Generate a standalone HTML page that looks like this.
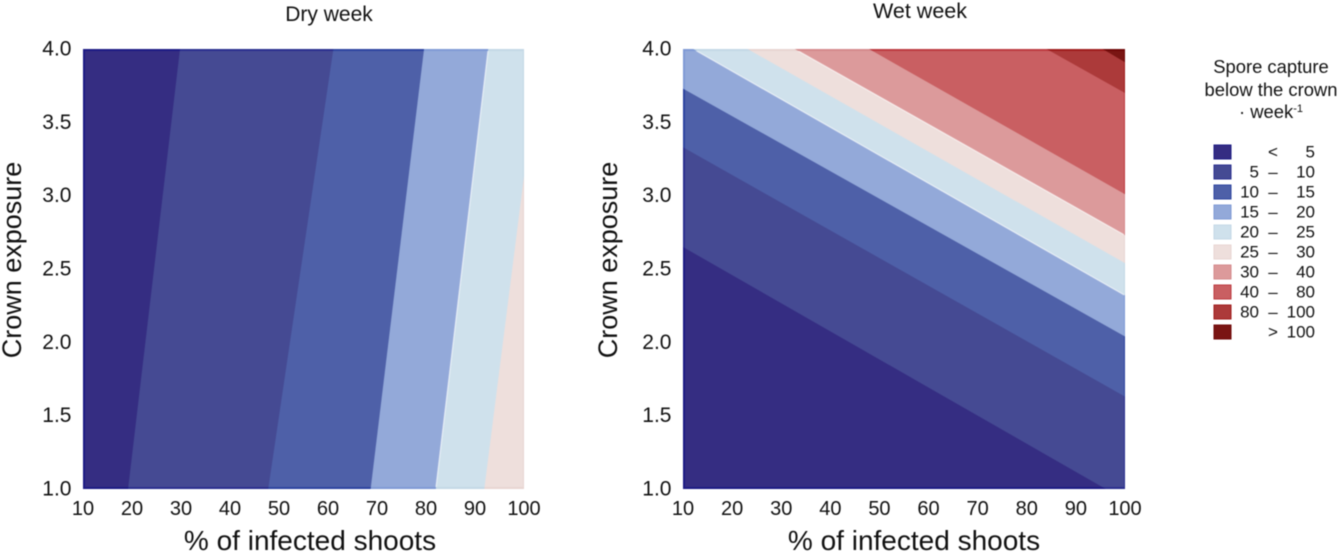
<!DOCTYPE html>
<html lang="en">
<head>
<meta charset="utf-8">
<title>Spore capture below the crown</title>
<style>
html,body{margin:0;padding:0;background:#fff;width:1340px;height:554px;overflow:hidden}
svg{display:block;filter:blur(0.45px)}
text{font-family:"Liberation Sans",sans-serif;fill:#111}
</style>
</head>
<body>
<svg id="chart" xmlns="http://www.w3.org/2000/svg" width="1340" height="554" viewBox="0 0 1340 554">
<defs>
<clipPath id="clip-dry"><rect x="83" y="49" width="441" height="440"/></clipPath>
<clipPath id="clip-wet"><rect x="683" y="49" width="442" height="440"/></clipPath>
<clipPath id="ring-dry"><path clip-rule="evenodd" d="M83 49H524V489H83ZM85 51V487H523V51Z"/></clipPath>
<clipPath id="ring-wet"><path clip-rule="evenodd" d="M683 49H1125V489H683ZM685 51V487H1124V51Z"/></clipPath>
</defs>
<text x="329" y="21" text-anchor="middle" font-size="21">Dry week</text>
<text x="920" y="18" text-anchor="middle" font-size="21.5">Wet week</text>
<text x="310" y="550" text-anchor="middle" font-size="28">% of infected shoots</text>
<text x="914" y="550" text-anchor="middle" font-size="28">% of infected shoots</text>
<text transform="translate(21 260) rotate(-90)" text-anchor="middle" font-size="27">Crown exposure</text>
<text transform="translate(617 260) rotate(-90)" text-anchor="middle" font-size="27">Crown exposure</text>
<g font-size="18.4" text-anchor="middle">
<text x="1271" y="73">Spore capture</text>
<text x="1271" y="96">below the crown</text>
<text x="1271" y="118">· week<tspan font-size="11" dy="-6">-1</tspan></text>
</g>
<g id="panels"></g>
<g id="legend"></g>
</svg>
<script>
const xTickLabels = [10, 20, 30, 40, 50, 60, 70, 80, 90, 100];
const yTickLabels = ["1.0", "1.5", "2.0", "2.5", "3.0", "3.5", "4.0"];
const legendLow = ["", "5", "10", "15", "20", "25", "30", "40", "80", ""];
const legendSep = ["<", "–", "–", "–", "–", "–", "–", "–", "–", ">"];
const legendHigh = ["5", "10", "15", "20", "25", "30", "40", "80", "100", "100"];
// Dry week contours: % infected shoots at crown exposure 1.0 and 4.0
const dryAtExposure1 = [19.2, 47.8, 68.7, 82.0, 91.9];
const dryAtExposure4 = [29.8, 61.1, 79.6, 92.7, 103.3];
// Wet week contours: crown exposure at 10 % and 100 % infected shoots
const wetAt10 = [2.65, 3.33, 3.73, 4.04, 4.25, 4.43, 4.72, 5.39, 5.69];
const wetAt100 = [0.925, 1.63, 2.04, 2.32, 2.54, 2.73, 3.01, 3.70, 3.91];

const bandFill = ["#352d82", "#454a93", "#4e60a8", "#93a9d9", "#cfe1ec", "#eedfdc", "#dc9a9b", "#c95f62", "#ac3a3a", "#7a1513"];
const bandEdge = ["#1c1a85", "#2a2f8f", "#2d44a0", "#7f9ad6", "#c4d8e6", "#e8d5d2", "#d58a8c", "#bd3a40", "#a01c1c", "#700808"];
const NS = "http://www.w3.org/2000/svg";
const panelsRoot = document.getElementById("panels");
const legendRoot = document.getElementById("legend");

function scaleX(panel, v) { return panel.left + (v - 10) / 90 * (panel.right - panel.left); }
function scaleY(panel, v) { return panel.bottom - (v - 1) / 3 * (panel.bottom - panel.top); }
function pts(panel, list) {
  return list.map(function (p) { return scaleX(panel, p[0]).toFixed(2) + "," + scaleY(panel, p[1]).toFixed(2); }).join(" ");
}
function make(tag, parent) {
  const el = document.createElementNS(NS, tag);
  parent.appendChild(el);
  return el;
}
function drawBands(panel, parent, colors, clipId, role, highlights) {
  const g = make("g", parent);
  g.setAttribute("clip-path", "url(#" + clipId + ")");
  
  
  const bg = make("rect", g);
  bg.setAttribute("x", panel.left);
  bg.setAttribute("y", panel.top);
  bg.setAttribute("width", panel.right - panel.left);
  bg.setAttribute("height", panel.bottom - panel.top);
  bg.setAttribute("fill", colors[0]);
  
  
  const regions = panel.regions();
  regions.forEach(function (region, i) {
    const poly = make("polygon", g);
    poly.setAttribute("points", pts(panel, region));
    poly.setAttribute("fill", colors[i + 1]);
    
    
  });
  if (highlights) {
    regions.forEach(function (region, i) {
      if (i !== 3 && i !== 5) return;
      const edge = make("polyline", g);
      edge.setAttribute("points", pts(panel, region.slice(0, 2)));
      edge.setAttribute("fill", "none");
      edge.setAttribute("stroke", "#ffffff");
      edge.setAttribute("stroke-opacity", "0.65");
      edge.setAttribute("stroke-width", "1.2");
      
      
    });
  }
}
function drawAxes(panel) {
  const g = make("g", panelsRoot);
  
  
  xTickLabels.forEach(function (v) {
    const t = make("text", g);
    t.setAttribute("x", scaleX(panel, v));
    t.setAttribute("y", 515);
    t.setAttribute("text-anchor", "middle");
    t.setAttribute("font-size", "20");
    
    
    t.textContent = v;
  });
  yTickLabels.forEach(function (v) {
    const t = make("text", g);
    t.setAttribute("x", panel.left - 11.5);
    t.setAttribute("y", scaleY(panel, parseFloat(v)) + 6.5);
    t.setAttribute("text-anchor", "end");
    t.setAttribute("font-size", "21");
    
    
    t.textContent = v;
  });
}

const dryPanel = {
  id: "dry-week", left: 83, right: 524, top: 49, bottom: 489,
  regions: function () {
    return dryAtExposure1.map(function (low, i) {
      return [[low, 1], [dryAtExposure4[i], 4], [300, 4], [300, 1]];
    });
  }
};
const wetPanel = {
  id: "wet-week", left: 683, right: 1125, top: 49, bottom: 489,
  regions: function () {
    return wetAt10.map(function (left, i) {
      return [[10, left], [100, wetAt100[i]], [100, 20], [10, 20]];
    });
  }
};

drawBands(dryPanel, panelsRoot, bandFill, "clip-dry", "contours", true);
drawBands(dryPanel, panelsRoot, bandEdge, "ring-dry", "frame-edge", false);
drawAxes(dryPanel);
drawBands(wetPanel, panelsRoot, bandFill, "clip-wet", "contours", true);
drawBands(wetPanel, panelsRoot, bandEdge, "ring-wet", "frame-edge", false);
drawAxes(wetPanel);

legendHigh.forEach(function (high, i) {
  const row = make("g", legendRoot);
  
  
  const y = 145 + i * 20;
  const sw = make("rect", row);
  sw.setAttribute("x", 1214);
  sw.setAttribute("y", y);
  sw.setAttribute("width", 17);
  sw.setAttribute("height", 14);
  sw.setAttribute("fill", bandFill[i]);
  sw.setAttribute("stroke", bandEdge[i]);
  
  
  const low = make("text", row);
  low.setAttribute("x", 1259);
  low.setAttribute("y", y + 12.5);
  low.setAttribute("text-anchor", "end");
  low.setAttribute("font-size", "17");
  
  
  low.textContent = legendLow[i];
  const sep = make("text", row);
  sep.setAttribute("x", 1273);
  sep.setAttribute("y", y + 12.5);
  sep.setAttribute("text-anchor", "middle");
  sep.setAttribute("font-size", "17");
  
  
  sep.textContent = legendSep[i];
  const hi = make("text", row);
  hi.setAttribute("x", 1315);
  hi.setAttribute("y", y + 12.5);
  hi.setAttribute("text-anchor", "end");
  hi.setAttribute("font-size", "17");
  
  
  hi.textContent = high;
});
</script>
</body>
</html>
